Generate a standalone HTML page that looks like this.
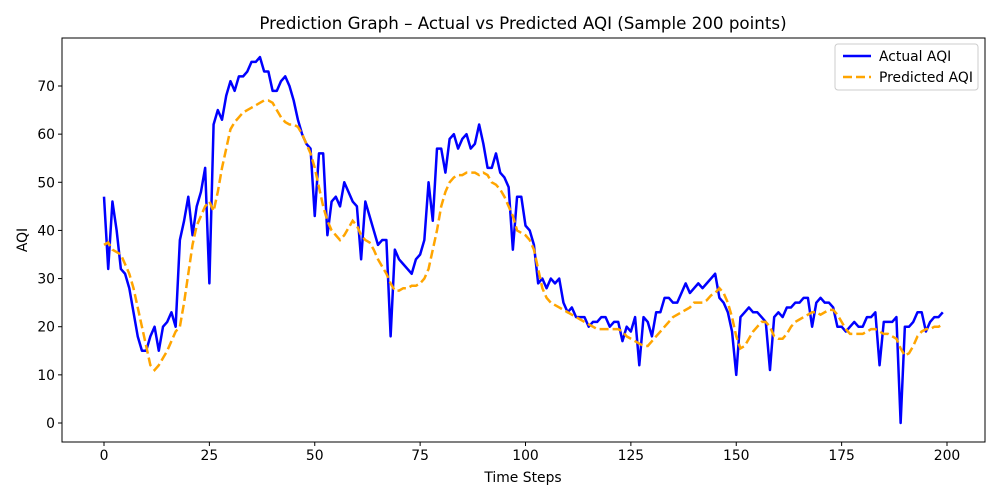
<!DOCTYPE html>
<html><head><meta charset="utf-8"><style>
body{margin:0;background:#fff}
svg{display:block;font-family:"DejaVu Sans","Liberation Sans",sans-serif}
</style></head><body>
<svg id="chart" width="1000" height="500" viewBox="0 0 1000 500" xmlns="http://www.w3.org/2000/svg">
<rect width="1000" height="500" fill="#fff"/>
<text x="523" y="29" text-anchor="middle" font-size="16.7">Prediction Graph – Actual vs Predicted AQI (Sample 200 points)</text>
<g id="plot"></g>
<g id="axes"></g>
<text x="523" y="482" text-anchor="middle" font-size="13.9">Time Steps</text>
<text x="27" y="240" text-anchor="middle" font-size="13.9" transform="rotate(-90 27 240)">AQI</text>
<g>
<rect x="835" y="44" width="143" height="46" fill="#fff" stroke="#ccc" rx="3"/>
<line x1="843" y1="56" x2="871" y2="56" stroke="#0000ff" stroke-width="2.5"/>
<text x="879" y="61" font-size="13.9">Actual AQI</text>
<line x1="843" y1="77" x2="871" y2="77" stroke="#ffa500" stroke-width="2.5" stroke-dasharray="9,4"/>
<text x="879" y="82" font-size="13.9">Predicted AQI</text>
</g>
</svg>
<script>
const actual=[47,32,46,40,32,31,28,23,18,15,15,18,20,15,20,21,23,20,38,42,47,39,45,48,53,29,62,65,63,68,71,69,72,72,73,75,75,76,73,73,69,69,71,72,70,67,63,60,58,57,43,56,56,39,46,47,45,50,48,46,45,34,46,43,40,37,38,38,18,36,34,33,32,31,34,35,38,50,42,57,57,52,59,60,57,59,60,57,58,62,58,53,53,56,52,51,49,36,47,47,41,40,37,29,30,28,30,29,30,25,23,24,22,22,22,20,21,21,22,22,20,21,21,17,20,19,22,12,22,21,18,23,23,26,26,25,25,27,29,27,28,29,28,29,30,31,26,25,23,19,10,22,23,24,23,23,22,21,11,22,23,22,24,24,25,25,26,26,20,25,26,25,25,24,20,20,19,20,21,20,20,22,22,23,12,21,21,21,22,0,20,20,21,23,23,19,21,22,22,23];
const predicted=[37,37.5,36,35.5,35,33,31,28,24,20,16,12,11,12,13.5,15,17,19,20,25,31,37,41,43,45,46,44,48,53,57,61,62.5,63.5,64.5,65,65.5,66,66.5,67,67,66.5,65,63.5,62.5,62,62,61.5,60,58,56,53,49,45,42,40,39,38,39,40.5,42,41,39,38,37.5,36,34,32.5,31,29,27.5,27.5,28,28,28.5,28.5,29,30,32,36,40,45,48,50,51,51.5,51.5,52,52,52,51.5,52,51.5,50,49.5,48.5,47,45,43,40,39.5,39,38,36,32,28,26,25,24.5,24,23.5,23,22.5,22,21.5,21,20.5,20,19.5,19.5,19.5,19.5,19.5,19.5,19,18,17.5,17,16.5,16,16,17,18,19,20,21,22,22.5,23,23.5,24,25,25,25,25.5,26.5,27,28,27,25,22,18,15.5,16,17.5,19,20,21,21,20,18,17.5,17.5,18.5,20,21,21.5,22,22.5,23,23,22.5,23,23.5,23.5,22.5,21,19.5,18.5,18.5,18.5,18.5,19,19.5,19.5,19,18.5,18.5,18,17.5,15.5,14,14.5,16,18,19,19.5,19.5,20,20,20.5];
const xTicks=[0,25,50,75,100,125,150,175,200];
const yTicks=[0,10,20,30,40,50,60,70];
const L=62,R=985,T=38,B=442;
const xs=v=>104+v*(947-104)/200;
const ys=v=>423-v*(423-86)/70;
const NS='http://www.w3.org/2000/svg';
const plot=document.getElementById('plot'),axes=document.getElementById('axes');
function mk(tag,attrs,parent){const e=document.createElementNS(NS,tag);for(const k in attrs)e.setAttribute(k,attrs[k]);parent.appendChild(e);return e;}
const pa=mk('polyline',{points:actual.map((v,i)=>xs(i)+','+ys(v)).join(' '),fill:'none',stroke:'#0000ff','stroke-width':2.5,'stroke-linejoin':'round'},plot);


const pp=mk('polyline',{points:predicted.map((v,i)=>xs(i)+','+ys(v)).join(' '),fill:'none',stroke:'#ffa500','stroke-width':2.5,'stroke-dasharray':'9,4'},plot);


const frame=mk('rect',{x:L,y:T,width:R-L,height:B-T,fill:'none',stroke:'#000','stroke-width':1},axes);


xTicks.forEach(t=>{const x=xs(t);
mk('line',{x1:x,y1:B,x2:x,y2:B+4,stroke:'#000'},axes);
const tx=mk('text',{x:x,y:B+18,'text-anchor':'middle','font-size':13.9},axes);tx.textContent=t;

});
yTicks.forEach(t=>{const y=ys(t);
mk('line',{x1:L-4,y1:y,x2:L,y2:y,stroke:'#000'},axes);
const tx=mk('text',{x:L-7,y:y+5,'text-anchor':'end','font-size':13.9},axes);tx.textContent=t;

});
</script>
</body></html>
